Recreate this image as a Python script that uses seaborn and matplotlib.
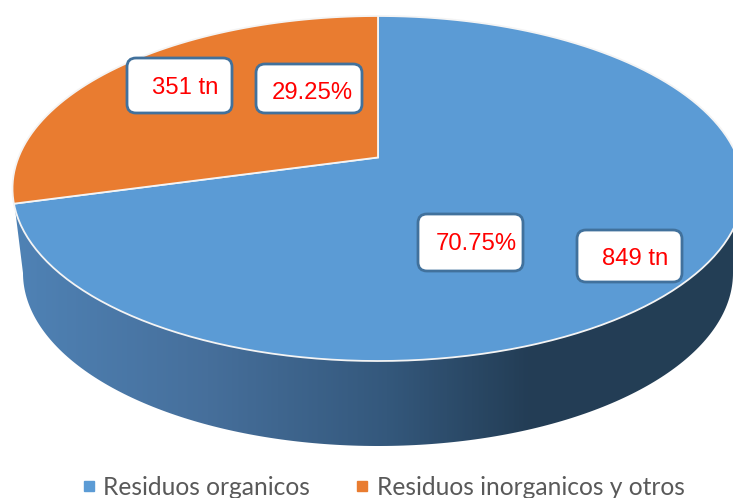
import numpy as np
import matplotlib
matplotlib.use('Agg')
import matplotlib.pyplot as plt
import seaborn as sns
from matplotlib.colors import LinearSegmentedColormap
from matplotlib.lines import Line2D
from matplotlib.patches import FancyBboxPatch, PathPatch, Polygon
from matplotlib.path import Path
from matplotlib.transforms import Affine2D

categorias = ['Residuos organicos', 'Residuos inorganicos y otros']
toneladas = [849, 351]
etiquetas_tn = ['849 tn', '351 tn']
etiquetas_pct = ['70.75%', '29.25%']

sns.set_theme(style='white')
colores = sns.color_palette(['#5B9BD5', '#E97C30'])

fig, ax = plt.subplots(figsize=(7.33, 4.98), dpi=100)
fig.subplots_adjust(left=0, right=1, bottom=0, top=1)

# Geometria de la tapa en pixeles (elipse con perspectiva)
cx, cy, a, b, c = 378, 188.5, 365.5, 172.5, 0.18


def perspectiva(xy):
    u, v = xy[:, 0], xy[:, 1]
    d = 1 + c * v
    return np.column_stack([cx + a * u * np.sqrt(1 - c ** 2) / d, cy - b * (v + c) / d])


wedges, _ = ax.pie(toneladas, colors=colores, startangle=90, counterclock=False)

# Pared lateral con degradado
t = np.radians(np.linspace(180, 360, 200))
arco_sup = np.column_stack([cx + a * np.cos(t), cy - b * np.sin(t)])
arco_inf = np.column_stack([cx + 355 * np.cos(t), 273 - 173 * np.sin(t)])
pared = Polygon(np.vstack([arco_sup, arco_inf[::-1]]), closed=True, transform=ax.transData,
                facecolor='none', edgecolor='none')
ax.add_patch(pared)
cmap = LinearSegmentedColormap.from_list('pared', [(0, '#4F82B5'), (0.27, '#466F9B'), (0.52, '#34587C'),
                                                   (0.72, '#233D55'), (1, '#243F56')])
grad = ax.imshow(np.linspace(0, 1, 400).reshape(1, -1), cmap=cmap, extent=(13, 733, 498, 0),
                 aspect='auto', zorder=0.5)
grad.set_clip_path(pared)

# Tapa: las cunas del pie pasadas por la perspectiva
for w, color in zip(wedges, colores):
    # se escala antes de aplanar para que la curva salga con muchos puntos
    grande = w.get_path().transformed(Affine2D().scale(1000))
    poligono = grande.to_polygons(closed_only=True)[0] / 1000
    w.set_visible(False)
    ax.add_patch(PathPatch(Path(perspectiva(poligono)), facecolor=color, edgecolor='#F4F4F4', lw=1.3, zorder=1))

# Etiquetas
cajas = {'849 tn': (577, 230, 105, 52), '351 tn': (127, 58, 105, 55),
         '70.75%': (418, 214, 105, 57), '29.25%': (256, 64, 106, 49)}
textos = {'849 tn': (635, 258.5), '351 tn': (185, 87.5), '70.75%': (476, 243.5), '29.25%': (312, 92.5)}
for et in etiquetas_tn + etiquetas_pct:
    x, y, w, h = cajas[et]
    ax.add_patch(FancyBboxPatch((x + 7, y + 7), w - 14, h - 14, boxstyle='round,pad=7,rounding_size=9',
                                facecolor='white', edgecolor='#41719C', lw=2, zorder=2))
    ax.text(*textos[et], et, color='#FF0000', fontsize=17.2, family='Liberation Sans',
            ha='center', va='center', zorder=3)

ax.set_aspect('auto')
ax.set_xlim(0, 733)
ax.set_ylim(498, 0)
ax.axis('off')

handles = [Line2D([], [], marker='s', ls='', color=col, markersize=7) for col in colores]
fig.legend(handles, categorias, loc='center', bbox_to_anchor=(383 / 733, 1 - 487 / 498), ncol=2, frameon=False,
           prop={'family': 'Lato', 'size': 17.7}, labelcolor='#595959', handlelength=0.6, handletextpad=0.3,
           columnspacing=1.82, borderpad=0, borderaxespad=0)

fig.savefig('out.png', dpi=100)
